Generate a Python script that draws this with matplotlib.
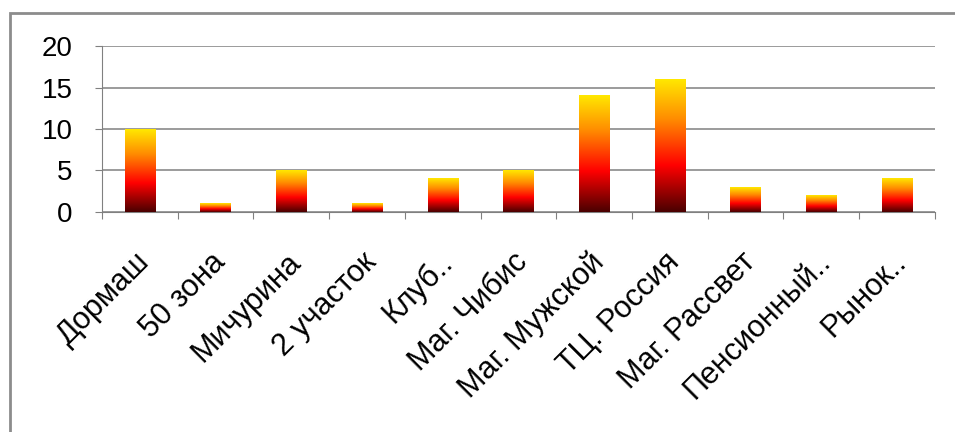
import numpy as np
import matplotlib
matplotlib.use("Agg")
import matplotlib.pyplot as plt
from matplotlib.colors import LinearSegmentedColormap
from matplotlib.patches import Rectangle
from matplotlib.transforms import ScaledTranslation

plt.rcParams['font.family'] = ['Liberation Sans', 'DejaVu Sans']

# данные
categories = ['Дормаш', '50 зона', 'Мичурина', '2 участок', 'Клуб..',
              'Маг. Чибис', 'Маг. Мужской', 'ТЦ. Россия', 'Маг. Рассвет',
              'Пенсионный..', 'Рынок..']
values = [10, 1, 5, 1, 4, 5, 14, 16, 3, 2, 4]
yticks = [0, 5, 10, 15, 20]

# градиент: тёмно-красный -> красный -> оранжевый -> жёлтый
cmap = LinearSegmentedColormap.from_list(
    'fire', [(0.0, '#4a0000'), (0.35, '#ff0000'), (0.7, '#ff8c00'), (1.0, '#ffe800')])

fig = plt.figure(figsize=(9.55, 4.32), dpi=100)
ax = fig.add_axes([0.1068, 0.5093, 0.8722, 0.3842])

x = np.arange(len(categories))
bars = ax.bar(x, values, width=0.4, color='none', zorder=3)

grad = np.linspace(0, 1, 256).reshape(-1, 1)
for b in bars:
    x0, y0 = b.get_x(), b.get_y()
    ax.imshow(grad, cmap=cmap, origin='lower', aspect='auto', zorder=3,
              extent=[x0, x0 + b.get_width(), y0, y0 + b.get_height()])

ax.set_xlim(-0.5, len(categories) - 0.5)
ax.set_ylim(0, 20)
ax.set_yticks(yticks)
ax.yaxis.grid(True, color='#8a8a8a', lw=1.2)
ax.set_axisbelow(True)

# деления между категориями
ax.set_xticks(np.arange(len(categories) + 1) - 0.5)
ax.set_xticklabels([])
ax.set_xticks(x, minor=True)
ax.set_xticklabels(categories, minor=True, rotation=45, ha='right',
                   rotation_mode='anchor', fontsize=22)
ax.tick_params(axis='x', which='minor', length=0, pad=25)
ax.tick_params(axis='x', which='major', length=5, color='#808080')
ax.tick_params(axis='y', length=5, color='#808080', labelsize=20, pad=16)

# сдвиг подписей немного влево
shift = ScaledTranslation(-0.055, 0, fig.dpi_scale_trans)
for lbl in ax.get_xticklabels(minor=True):
    lbl.set_transform(lbl.get_transform() + shift)

for s in ['top', 'right']:
    ax.spines[s].set_visible(False)
ax.spines['left'].set_color('#808080')
ax.spines['bottom'].set_color('#808080')

# рамка диаграммы
fig.patches.append(Rectangle((10 / 955, -0.1), 1.2, 1 - 13 / 432 + 0.1,
                             transform=fig.transFigure, fill=False,
                             edgecolor='#8c8c8c', lw=2))

fig.savefig('out.png', dpi=100)
